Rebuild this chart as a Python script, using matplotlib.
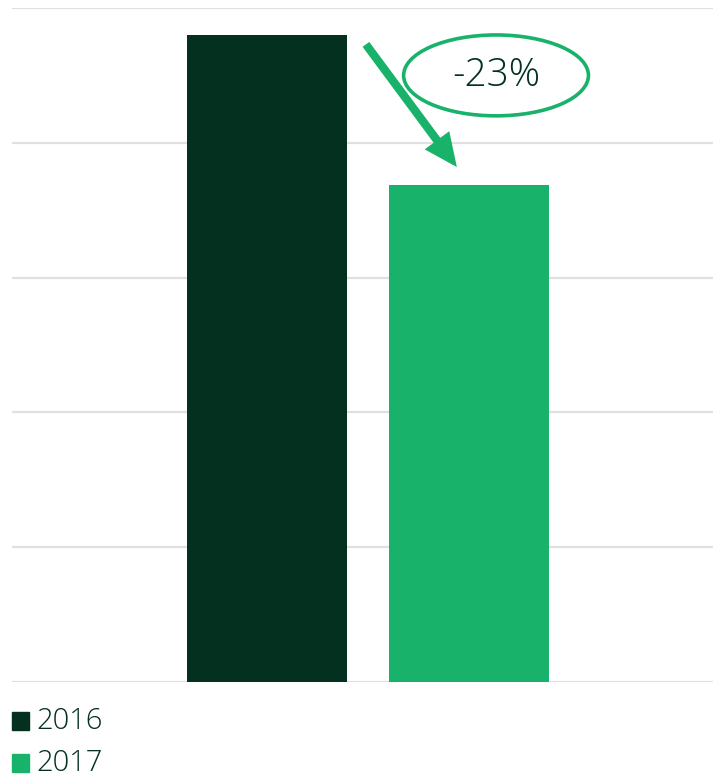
import matplotlib as mpl
from matplotlib import pyplot as plt
from matplotlib.patches import Ellipse, FancyArrowPatch

mpl.rcParams["font.family"] = ["Open Sans", "DejaVu Sans"]

years = ["2016", "2017"]
values = [4.80, 3.69]
change_label = "-23%"

dark_green = "#03301f"
light_green = "#19b26b"
grid_grey = "#e0e0e0"

fig = plt.figure(figsize=(7.13, 7.77), dpi=100)
# axes spans from the first gridline to the right edge
ax = fig.add_axes([12 / 713, 1 - 682 / 777, 701 / 713, 674 / 777])

ax.bar(range(len(years)), values, width=0.792, color=[dark_green, light_green], zorder=2)
ax.set_xlim(-1.262, 2.208)
ax.set_ylim(0, 5)
ax.set_yticks(range(6))
ax.yaxis.grid(True, color=grid_grey, lw=1.6)
ax.set_axisbelow(True)
ax.tick_params(left=False, bottom=False, labelleft=False, labelbottom=False)
for side in ax.spines.values():
    side.set_visible(False)

# decline arrow and the circled percentage
arrow = FancyArrowPatch(
    (0.49, 4.73), (0.94, 3.82),
    arrowstyle="simple,head_length=24,head_width=22,tail_width=6",
    color=light_green, lw=0, shrinkA=0, shrinkB=0, clip_on=False, zorder=3,
)
ax.add_patch(arrow)
ax.add_patch(Ellipse((1.134, 4.50), 0.915, 0.60, fill=False,
                     ec=light_green, lw=2.6, clip_on=False, zorder=3))
ax.text(1.134, 4.50, change_label, ha="center", va="center",
        fontsize=28, fontweight="light", color=dark_green, zorder=4)

# legend below the plot
for i, (year, c) in enumerate(zip(years, [dark_green, light_green])):
    y = 1 - (721 + 42 * i) / 777
    fig.patches.append(mpl.patches.Rectangle(
        (12 / 713, y - 9 / 777), 17 / 713, 18 / 777,
        transform=fig.transFigure, color=c))
    fig.text(36 / 713, y, year, va="center", ha="left",
             fontsize=21, fontweight="light", color=dark_green)

fig.savefig("out.png", dpi=100)
plt.close(fig)
